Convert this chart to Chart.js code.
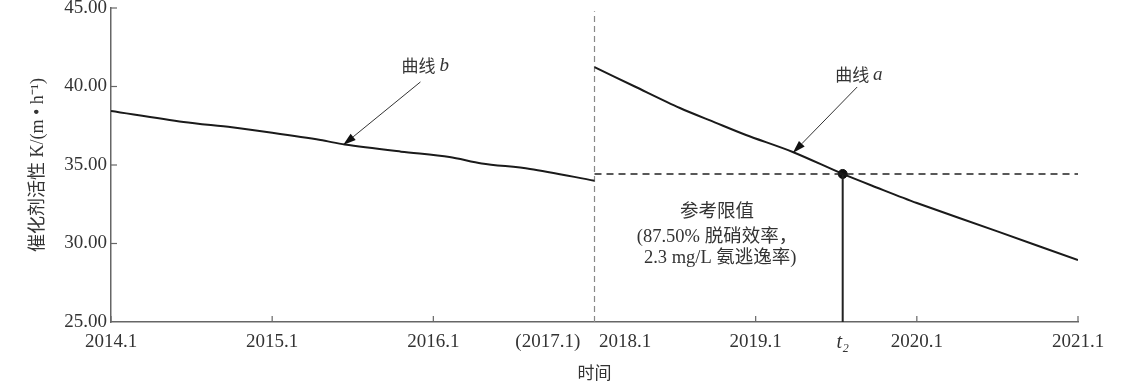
<!DOCTYPE html>
<html>
<head>
<meta charset="utf-8">
<script src="https://cdn.jsdelivr.net/npm/chart.js@4/dist/chart.umd.min.js"></script>
<style>
  html, body { margin: 0; padding: 0; background: #fff; }
  #wrap { width: 1133px; height: 385px; }
</style>
</head>
<body>
<div id="wrap"><canvas id="cv"></canvas></div>
<script>
// x-achse: 0 = 2014.1 ... 3 = (2017.1)/2018.1 ... 6 = 2021.1
const tickPos = [0, 1, 2, 2.71, 3.19, 4, 4.54, 5, 6];
const tickText = ["2014.1", "2015.1", "2016.1", "(2017.1)", "2018.1", "2019.1", "t\u2082", "2020.1", "2021.1"];
const tickMarks = [0, 1, 2, 4, 5, 6];

// kurve b (2014.1 - 2017.1)
const bX = [0, 0.45, 0.75, 1.0, 1.3, 1.45, 1.8, 2.1, 2.3, 2.6, 3.0];
const bY = [38.44, 37.74, 37.4, 37.05, 36.59, 36.3, 35.85, 35.51, 35.1, 34.75, 34.0];

// kurve a (2018.1 - 2021.1)
const aX = [3.0, 3.25, 3.53, 3.75, 3.94, 4.23, 4.54, 4.75, 5.0, 5.5, 6.0];
const aY = [41.24, 40.0, 38.63, 37.7, 36.91, 35.83, 34.43, 33.57, 32.58, 30.77, 28.95];

// referenzwert
const refLevel = 34.43;
const t2 = 4.54;
const breakX = 3;

const serif = '"Liberation Serif", "Noto Sans CJK SC", serif';
const cjk = '"Noto Sans CJK SC", "Liberation Serif", sans-serif';

const toPts = (xs, ys) => xs.map((x, i) => ({x: x, y: ys[i]}));

// pfeile + texte
const arrows = [
  {from: [1.92, 40.29], to: [1.44, 36.27]},
  {from: [4.63, 39.97], to: [4.23, 35.76]}
];
const curveLabels = [
  {pos: [1.95, 41.31], txt: "曲线 ", it: "b"},
  {pos: [4.64, 40.73], txt: "曲线 ", it: "a"}
];
const refText = [
  {pos: [3.76, 32.0], txt: "参考限值"},
  {pos: [3.76, 30.41], txt: "(87.50% 脱硝效率，"},
  {pos: [3.78, 29.08], txt: "2.3 mg/L 氨逃逸率)"}
];

const extras = {
  id: "extras",
  afterDatasetsDraw(chart) {
    const ctx = chart.ctx;
    const xs = chart.scales.x, ys = chart.scales.y;
    const area = chart.chartArea;
    ctx.save();

    //ticks nach innen
    ctx.strokeStyle = "#666";
    ctx.lineWidth = 1.2;
    for (let v of tickMarks) {
      let px = xs.getPixelForValue(v);
      ctx.beginPath();
      ctx.moveTo(px, area.bottom);
      ctx.lineTo(px, area.bottom - 6);
      ctx.stroke();
    }
    for (let v of [30, 35, 40, 45]) {
      let py = ys.getPixelForValue(v);
      ctx.beginPath();
      ctx.moveTo(area.left, py);
      ctx.lineTo(area.left + 6, py);
      ctx.stroke();
    }

    //pfeile
    ctx.strokeStyle = "#333";
    ctx.fillStyle = "#111";
    ctx.lineWidth = 1;
    for (let a of arrows) {
      let x1 = xs.getPixelForValue(a.from[0]), y1 = ys.getPixelForValue(a.from[1]);
      let x2 = xs.getPixelForValue(a.to[0]), y2 = ys.getPixelForValue(a.to[1]);
      let ang = Math.atan2(y2 - y1, x2 - x1);
      let len = 13, w = 4;
      let bx = x2 - len * Math.cos(ang), by = y2 - len * Math.sin(ang);
      ctx.beginPath();
      ctx.moveTo(x1, y1);
      ctx.lineTo(bx, by);
      ctx.stroke();
      ctx.beginPath();
      ctx.moveTo(x2, y2);
      ctx.lineTo(bx + w * Math.sin(ang), by - w * Math.cos(ang));
      ctx.lineTo(bx - w * Math.sin(ang), by + w * Math.cos(ang));
      ctx.closePath();
      ctx.fill();
    }

    //kurven beschriftung
    ctx.fillStyle = "#333";
    ctx.textBaseline = "middle";
    for (let l of curveLabels) {
      let px = xs.getPixelForValue(l.pos[0]), py = ys.getPixelForValue(l.pos[1]);
      ctx.font = "17px " + cjk;
      let w1 = ctx.measureText(l.txt).width;
      ctx.font = "italic 19px " + serif;
      let w2 = ctx.measureText(l.it).width;
      let sx = px - (w1 + w2) / 2;
      ctx.textAlign = "left";
      ctx.font = "17px " + cjk;
      ctx.fillText(l.txt, sx, py);
      ctx.font = "italic 19px " + serif;
      ctx.fillText(l.it, sx + w1, py);
    }

    //referenz text
    ctx.textAlign = "center";
    ctx.font = "18.5px " + serif;
    for (let r of refText) {
      ctx.fillText(r.txt, xs.getPixelForValue(r.pos[0]), ys.getPixelForValue(r.pos[1]));
    }
    ctx.restore();
  }
};

const config = {
  type: "line",
  data: {
    datasets: [
      {
        label: "曲线 b",
        data: toPts(bX, bY),
        borderColor: "#1a1a1a",
        borderWidth: 2,
        pointRadius: 0,
        tension: 0.3
      },
      {
        label: "曲线 a",
        data: toPts(aX, aY),
        borderColor: "#1a1a1a",
        borderWidth: 2,
        pointRadius: 0,
        tension: 0.3
      },
      {
        label: "break",
        data: toPts([breakX, breakX], [25, 44.8]),
        borderColor: "#888",
        borderWidth: 1.2,
        borderDash: [6, 4],
        pointRadius: 0
      },
      {
        label: "ref",
        data: toPts([breakX, 6], [refLevel, refLevel]),
        borderColor: "#222",
        borderWidth: 1.6,
        borderDash: [7, 5],
        pointRadius: 0
      },
      {
        label: "drop",
        data: toPts([t2, t2], [refLevel, 25]),
        borderColor: "#222",
        borderWidth: 2,
        pointRadius: 0
      },
      {
        label: "t2",
        data: toPts([t2], [refLevel]),
        showLine: false,
        pointRadius: 4.5,
        pointBackgroundColor: "#111",
        pointBorderColor: "#111"
      }
    ]
  },
  options: {
    responsive: false,
    animation: false,
    layout: {padding: {top: 8, right: 55, bottom: 0, left: 0}},
    plugins: {legend: {display: false}, tooltip: {enabled: false}},
    scales: {
      x: {
        type: "linear",
        min: 0,
        max: 6,
        afterBuildTicks: (scale) => { scale.ticks = tickPos.map(v => ({value: v})); },
        afterFit: (scale) => { scale.height = 63; },
        ticks: {
          autoSkip: false,
          maxRotation: 0,
          padding: 9,
          color: "#333",
          font: (c) => ({family: serif, size: c.index === 6 ? 20 : 19, style: c.index === 6 ? "italic" : "normal"}),
          callback: (v, i) => tickText[i]
        },
        grid: {display: false, drawTicks: false},
        border: {color: "#666", width: 1.5},
        title: {
          display: true,
          text: "时间",
          color: "#333",
          font: {family: cjk, size: 17},
          padding: {top: 0, bottom: 2}
        }
      },
      y: {
        min: 25,
        max: 45,
        afterFit: (scale) => { scale.width = 111; scale.paddingTop = 0; },
        ticks: {
          stepSize: 5,
          padding: 4,
          color: "#333",
          font: {family: serif, size: 19},
          callback: (v) => v.toFixed(2)
        },
        grid: {display: false, drawTicks: false},
        border: {color: "#666", width: 1.5},
        title: {
          display: true,
          text: "催化剂活性 K/(m • h⁻¹)",
          color: "#333",
          font: {family: serif, size: 18},
          padding: {top: 27, bottom: 0}
        }
      }
    }
  },
  plugins: [extras]
};

let cv = document.getElementById("cv");
cv.width = 1133;
cv.height = 385;
new Chart(cv.getContext("2d"), config);
</script>
</body>
</html>
